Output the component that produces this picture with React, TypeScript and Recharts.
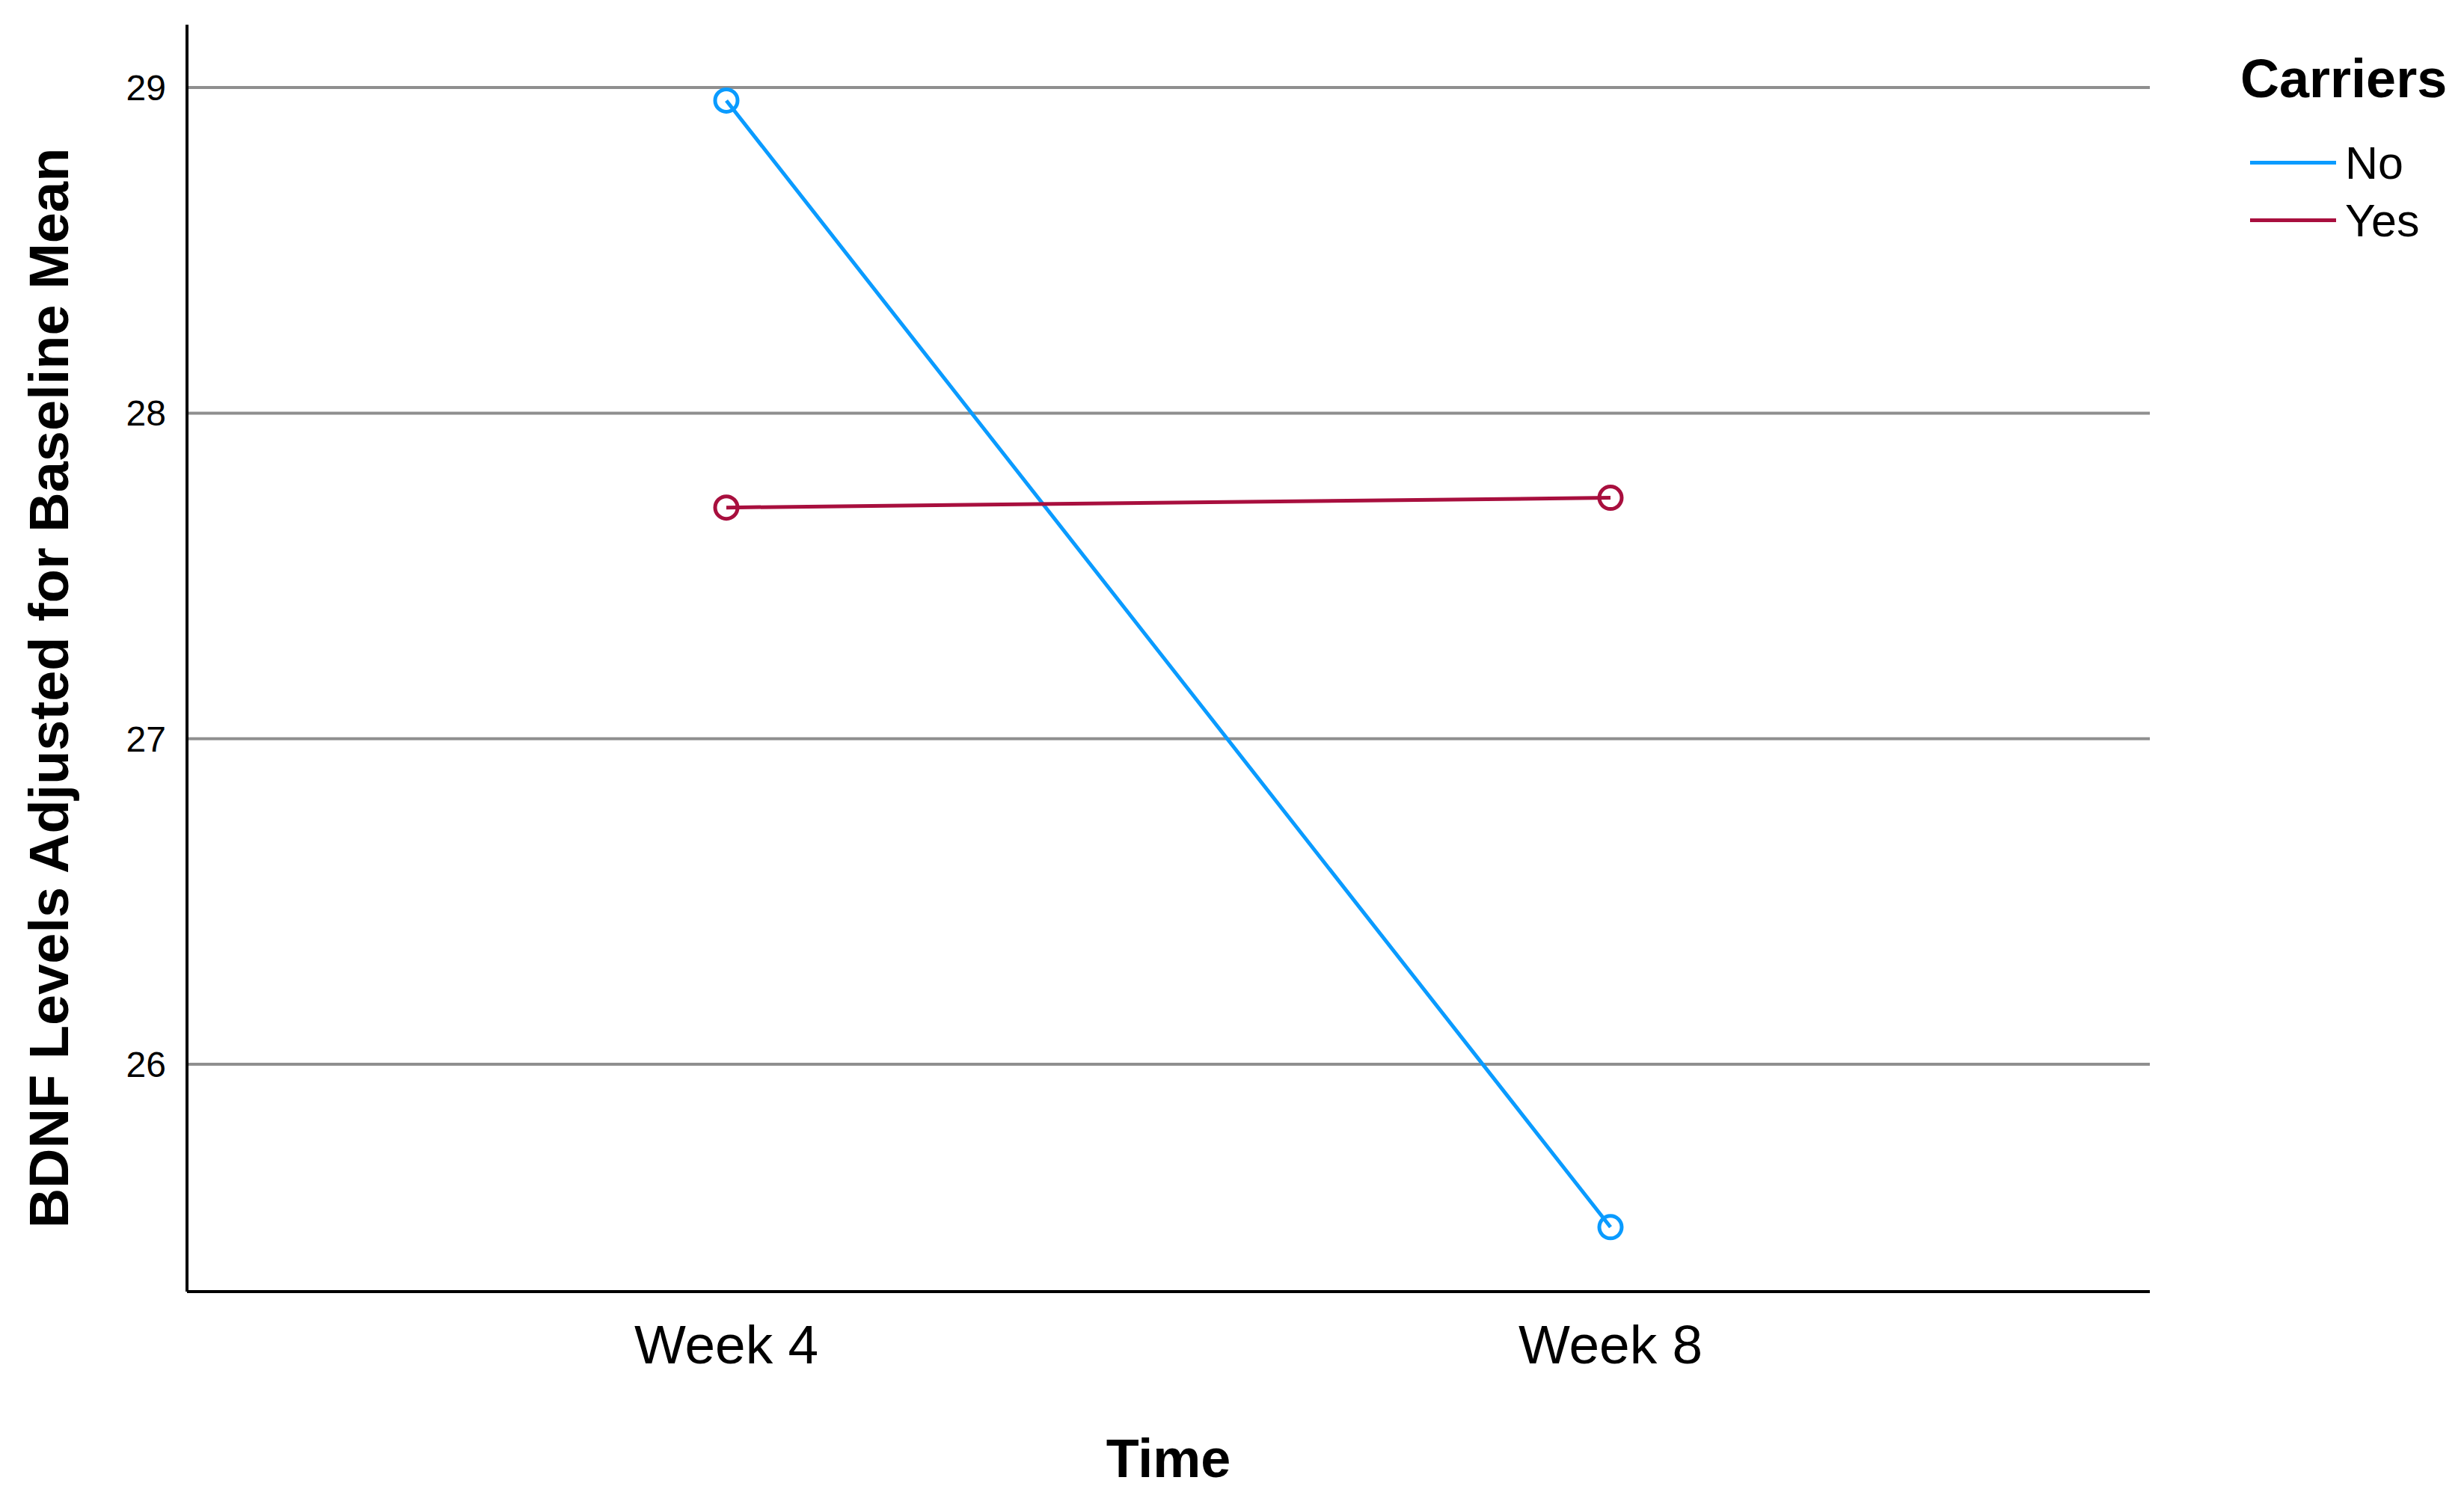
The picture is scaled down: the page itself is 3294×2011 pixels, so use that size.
import React from "react";
import {
    LineChart,
    Line,
    XAxis,
    YAxis,
    CartesianGrid,
    Legend,
    Label,
} from "recharts";

// values
const categories = ["Week 4", "Week 8"];
const noCarriers = [28.96, 25.5];
const yesCarriers = [27.71, 27.74];
const yTicks = [26, 27, 28, 29];
const yDomain = [25.302, 29.193];

const FONT = "'Liberation Sans', Arial, sans-serif";
const BLUE = "#0A9BFF";
const CRIMSON = "#A80F3E";

const data = categories.map((name, i) => ({
    pos: i + 1,
    name,
    No: noCarriers[i],
    Yes: yesCarriers[i],
}));

const YTitle = (props: any) => {
    const { viewBox } = props;
    const cx = viewBox.x + 65;
    const cy = viewBox.y + viewBox.height / 2 + 40;
    return (
        <text
            x={cx}
            y={cy}
            transform={`rotate(-90, ${cx}, ${cy})`}
            textAnchor="middle"
            dominantBaseline="central"
            fontFamily={FONT}
            fontWeight="bold"
            fontSize={74}
            fill="#000"
        >
            BDNF Levels Adjusted for Baseline Mean
        </text>
    );
};

const XTitle = (props: any) => {
    const { viewBox } = props;
    return (
        <text
            x={viewBox.x + viewBox.width / 2}
            y={viewBox.y + 248}
            textAnchor="middle"
            fontFamily={FONT}
            fontWeight="bold"
            fontSize={72}
            fill="#000"
        >
            Time
        </text>
    );
};

const LegendBox = (props: any) => {
    const { payload } = props;
    return (
        <div style={{ fontFamily: FONT, color: "#000" }}>
            <div style={{ fontWeight: "bold", fontSize: 72, lineHeight: "80px" }}>
                Carriers
            </div>
            <div style={{ marginTop: 34 }}>
                {(payload || []).map((p: any) => (
                    <div
                        key={p.value}
                        style={{ display: "flex", alignItems: "center", height: 77 }}
                    >
                        <div
                            style={{
                                width: 115,
                                height: 5,
                                background: p.color,
                                marginLeft: 13,
                                marginRight: 12,
                            }}
                        />
                        <span style={{ fontSize: 61 }}>{p.value}</span>
                    </div>
                ))}
            </div>
        </div>
    );
};

// grid rows only at the tick values (no line along the top edge)
const gridRows = ({ offset }: any) =>
    yTicks.map(
        (t) =>
            offset.top +
            ((yDomain[1] - t) / (yDomain[1] - yDomain[0])) * offset.height
    );

export default function App() {
    return (
        <div style={{ position: "absolute", left: 0, top: 0, background: "#fff" }}>
            <LineChart
                width={3294}
                height={2011}
                data={data}
                margin={{ top: 33, right: 420, bottom: 0, left: 0 }}
            >
                <CartesianGrid
                    vertical={false}
                    stroke="#8f8f8f"
                    strokeWidth={4}
                    horizontalCoordinatesGenerator={gridRows}
                />
                <XAxis
                    dataKey="pos"
                    type="number"
                    domain={[0.39, 2.61]}
                    ticks={[1, 2]}
                    tickFormatter={(v: number) => categories[v - 1]}
                    height={284}
                    tickLine={false}
                    tickSize={0}
                    tickMargin={44}
                    axisLine={{ stroke: "#000", strokeWidth: 4 }}
                    tick={{ fontSize: 73, fill: "#000", fontFamily: FONT }}
                >
                    <Label content={XTitle} />
                </XAxis>
                <YAxis
                    type="number"
                    domain={yDomain}
                    ticks={yTicks}
                    allowDataOverflow
                    width={250}
                    tickLine={false}
                    tickSize={0}
                    tickMargin={28}
                    axisLine={{ stroke: "#000", strokeWidth: 4 }}
                    tick={{ fontSize: 48, fill: "#000", fontFamily: FONT }}
                >
                    <Label content={YTitle} />
                </YAxis>
                <Legend
                    layout="vertical"
                    align="center"
                    verticalAlign="middle"
                    content={LegendBox}
                    wrapperStyle={{ left: 2995, top: 65, width: 299 }}
                />
                <Line
                    dataKey="No"
                    name="No"
                    stroke={BLUE}
                    strokeWidth={5}
                    dot={{ r: 15, fill: "none", stroke: BLUE, strokeWidth: 5 }}
                    activeDot={false}
                    isAnimationActive={false}
                />
                <Line
                    dataKey="Yes"
                    name="Yes"
                    stroke={CRIMSON}
                    strokeWidth={5}
                    dot={{ r: 15, fill: "none", stroke: CRIMSON, strokeWidth: 5 }}
                    activeDot={false}
                    isAnimationActive={false}
                />
            </LineChart>
        </div>
    );
}
